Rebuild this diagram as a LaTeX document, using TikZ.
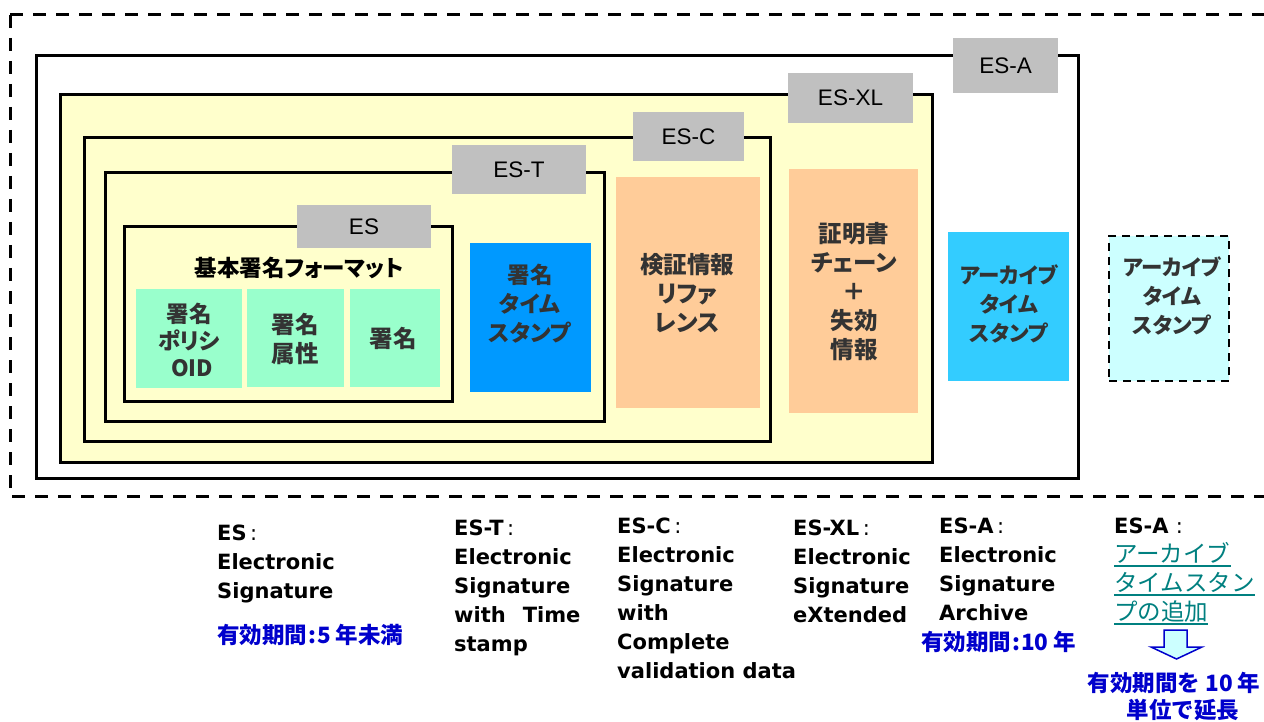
\documentclass[tikz,border=0pt]{standalone}
\usepackage{fontspec}
\usetikzlibrary{fit}
\newfontfamily\jp{Noto Sans CJK JP}
\newfontfamily\jpp{Noto Sans CJK JP}[RawFeature=+palt]
\newfontfamily\lab{Liberation Sans}
\newfontfamily\dv{DejaVu Sans}
\definecolor{tagGray}{HTML}{C0C0C0}
\definecolor{yel}{HTML}{FFFFCC}
\definecolor{grn}{HTML}{99FFCC}
\definecolor{blu}{HTML}{0099FF}
\definecolor{ora}{HTML}{FFCC99}
\definecolor{cya}{HTML}{33CCFF}
\definecolor{cyaL}{HTML}{CCFFFF}
\definecolor{txtGray}{HTML}{333333}
\definecolor{jpBlue}{HTML}{0000CC}
\definecolor{tealC}{HTML}{008080}
\begin{document}
\begin{tikzpicture}[x=1pt,y=-1pt,
 frame/.style={draw=black,line width=3pt,inner sep=0pt},
 fillbox/.style={inner sep=0pt},
 tag/.style={fill=tagGray,inner sep=0pt,font=\lab\fontsize{22.5}{26}\selectfont},
 boxtext/.style={inner sep=0pt,align=center,text=txtGray,font=\jpp\bfseries\fontsize{23.5}{29}\selectfont},
 katatext/.style={boxtext,font=\jpp\bfseries\fontsize{21.5}{29}\selectfont},
 desc/.style={inner sep=0pt,align=left,anchor=north west,font=\dv\bfseries\fontsize{21}{29}\selectfont},
 period/.style={inner sep=0pt,text=jpBlue,font=\jp\bfseries\fontsize{22.5}{26}\selectfont},
 tealtxt/.style={inner sep=0pt,anchor=base west,text=tealC,font=\jp\fontsize{23.5}{28}\selectfont},
 dashline/.style={line width=3pt,dash pattern=on 13pt off 10pt}
]
\useasboundingbox (0,0) rectangle (1264,722);
\fill[white] (0,0) rectangle (1264,722);

% outer dashed region
\coordinate (dTL) at (10,15);
\coordinate (dTR) at (1264,15);
\coordinate (dBL) at (10,496);
\coordinate (dBR) at (1264,496);
\draw[dashline] (dTL) -- (dTR);
\draw[dashline] (dTL) -- (dBL) -- (dBR);

% nested frames
\node[frame,fill=white,fit={(36,56) (1078,478)}] (esA) {};
\node[frame,fill=yel,fit={(60,95) (932,462)}] (esXL) {};
\node[frame,fill=yel,fit={(84,138) (770,441)}] (esC) {};
\node[frame,fill=yel,fit={(105,173) (604,421)}] (esT) {};
\node[frame,fill=yel,fit={(124,227) (452,401)}] (esB) {};

% coloured boxes
\node[fillbox,fill=grn,fit={(136,289) (242,388)}] (g1) {};
\node[fillbox,fill=grn,fit={(247,289) (344,387)}] (g2) {};
\node[fillbox,fill=grn,fit={(350,289) (440,387)}] (g3) {};
\node[fillbox,fill=blu,fit={(470,243) (591,392)}] (bl) {};
\node[fillbox,fill=ora,fit={(616,177) (760,408)}] (o1) {};
\node[fillbox,fill=ora,fit={(789,169) (918,413)}] (o2) {};
\node[fillbox,fill=cya,fit={(948,232) (1069,381)}] (cy) {};
\node[fillbox,fill=cyaL,draw=black,line width=2.5pt,dash pattern=on 8pt off 6pt,fit={(1109,236) (1229,381)}] (dcy) {};

% tags
\node[tag,minimum width=105pt,minimum height=55pt] (tagA) at (1005.5,65.5) {ES-A};
\node[tag,minimum width=125pt,minimum height=50pt] (tagXL) at (850.5,98) {ES-XL};
\node[tag,minimum width=111pt,minimum height=49pt] (tagC) at (688.5,136.5) {ES-C};
\node[tag,minimum width=134pt,minimum height=49pt] (tagT) at (519,169.5) {ES-T};
\node[tag,minimum width=134pt,minimum height=43pt] (tagE) at (364,226.5) {ES};

% texts in boxes
\node[boxtext,text=black,font=\jpp\bfseries\fontsize{22.5}{29}\selectfont] (title) at (299,268) {基本署名フォーマット};
\node[boxtext,font=\jpp\bfseries\fontsize{22.5}{27}\selectfont] (t1) at (189,340) {署名\\ポリシ\\\hspace*{6pt}OID};
\node[boxtext] (t2) at (295,339) {署名\\属性};
\node[boxtext] (t3) at (393,338) {署名};
\node[katatext,font=\jpp\bfseries\fontsize{22.5}{29}\selectfont] (t4) at (530,303.5) {署名\\タイム\\スタンプ};
\node[boxtext] (t5) at (687,293) {検証情報\\リファ\\レンス};
\node[boxtext] (t6) at (854,291.5) {証明書\\チェーン\\＋\\失効\\情報};
\node[katatext] (t7) at (1009,304) {アーカイブ\\タイム\\スタンプ};
\node[katatext] (t8) at (1172,296) {アーカイブ\\タイム\\スタンプ};

% descriptions
\node[desc] (dES) at (217,524.5) {ES{\mdseries\,:}\\Electronic\\Signature};
\node[period,anchor=west] (pES) at (217,635) {有効期間{\hspace{1pt}:\hspace{1pt}}5 年未満};
\node[desc] (dT) at (454,519.5) {ES-T{\mdseries\,:}\\Electronic\\Signature\\with\hspace*{17pt}Time\\stamp};
\node[desc] (dC) at (617,517.5) {ES-C{\mdseries\,:}\\Electronic\\Signature\\with\\Complete\\validation data};
\node[desc] (dXL) at (793,520) {ES-XL{\mdseries\,:}\\Electronic\\Signature\\eXtended};
\node[desc] (dA) at (939,517.5) {ES-A{\mdseries\,:}\\Electronic\\Signature\\Archive};
\node[period,anchor=west] (pA) at (921,642) {有効期間{\hspace{1pt}:\hspace{1pt}}10 年};
\node[desc] (dA2) at (1114,517.5) {ES-A {\mdseries :}};

\node[tealtxt] (u1) at (1114,562) {アーカイブ};
\node[tealtxt] (u2) at (1114,591) {タイムスタン};
\node[tealtxt] (u3) at (1114,620) {プの追加};
\foreach \n in {u1,u2,u3}
  \draw[tealC,line width=1.5pt] ([yshift=-4pt]\n.base west) -- ([yshift=-4pt]\n.base east);

\draw[jpBlue,fill=cyaL,line width=1.5pt,line join=miter]
  (1164,630) -- (1187,630) -- (1187,647) -- (1202,647) -- (1176.5,659) -- (1151,647) -- (1164,647) -- cycle;

\node[period] (r1) at (1174,683) {有効期間を 10 年};
\node[period] (r2) at (1183,710) {単位で延長};
\end{tikzpicture}
\end{document}
